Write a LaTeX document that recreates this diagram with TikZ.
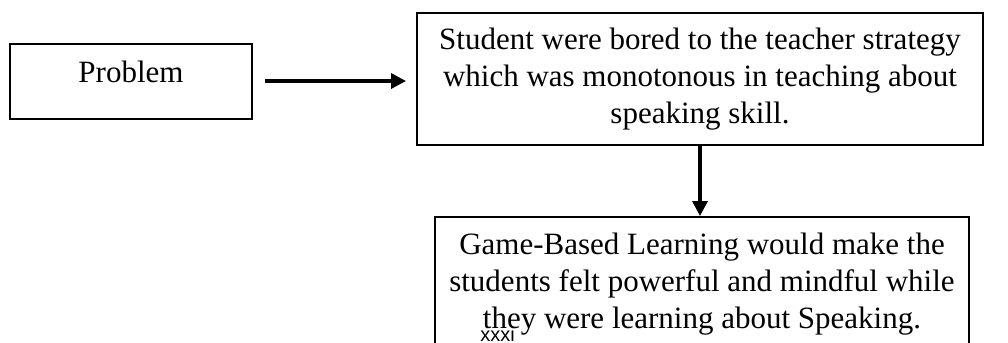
\documentclass[tikz,border=0pt]{standalone}
\usepackage{fontspec}
\setmainfont{Liberation Serif}
\newfontfamily\pagenofont{Liberation Sans}
\usetikzlibrary{arrows.meta}
\begin{document}
\begin{tikzpicture}[x=0.5pt,y=-0.5pt,font=\fontsize{15.5}{18.4}\selectfont,
  box/.style={draw,line width=1pt,align=center,inner sep=0pt},
  flow/.style={line width=1.7pt,-{Triangle[length=7.5pt,width=7.5pt]}}]
\useasboundingbox (0,0) rectangle (1008,343);
\clip (0,0) rectangle (1008,343);
\node[box,minimum width=121pt,minimum height=37.5pt,text depth=9.5pt] (problem) at (131,81) {Problem};
\node[box,minimum width=283pt,minimum height=66pt] (issue) at (700,79) {Student were bored to the teacher strategy\\which was monotonous in teaching about\\speaking skill.};
\node[box,minimum width=267pt,minimum height=67pt] (result) at (702,284) {Game-Based Learning would make the\\students felt powerful and mindful while\\they were learning about Speaking.};
% arrows between the boxes
\draw[flow,shorten <=6pt,shorten >=5pt] (problem.east) -- (problem.east -| issue.west);
\draw[flow] (issue.south) -- (issue.south |- result.north);
\node[anchor=base west,inner sep=0pt,font=\pagenofont\fontsize{10}{12}\selectfont] (pageno) at (480,341) {xxxi};
\end{tikzpicture}
\end{document}
